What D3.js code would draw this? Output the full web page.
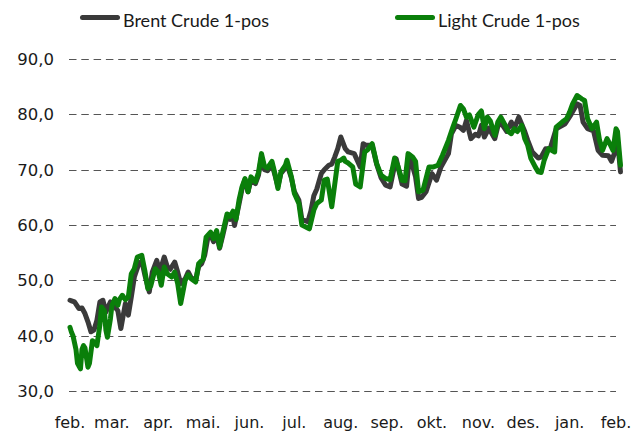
<!DOCTYPE html>
<html><head><meta charset="utf-8">
<script src="https://cdn.jsdelivr.net/npm/d3@7"></script>
<style>body{margin:0;background:#fff}</style>
</head><body>
<svg id="c" width="638" height="432"></svg>
<script>
// Day offsets counted from 1 Feb 2009, with prices (USD/bbl)
const monthLabels = ["feb.","mar.","apr.","mai.","jun.","jul.","aug.","sep.","okt.","nov.","des.","jan.","feb."];
const yTicks = [30,40,50,60,70,80,90];
const seriesNames = ["Brent Crude 1-pos","Light Crude 1-pos"];

const brentDays = [0,1,3,6,8,10,12,14,16,18,20,22,24,27,30,32,34,37,39,41,43,46,48,50,53,55,58,60,63,65,67,70,72,74,77,79,81,84,86,88,90,92,94,96,98,100,102,105,107,109,110,113,115,117,119,121,124,126,128,130,132,135,137,139,141,144,145,148,150,153,155,157,159,161,163,165,168,170,173,175,177,179,181,184,186,190,194,196,198,202,205,208,211,214,218,222,225,227,231,233,235,238,242,245,248,253,255,258,261,263,265,268,271,273,275,277,280,284,286,288,292,295,297,300,304,306,309,313,315,318,321,325,331,335,339,341,343,346,350,353,356,360,362,364,366,368];
const brentVals = [46.4,46.3,46.1,44.9,45.0,44.0,42.5,40.7,41.0,42.8,46.1,46.4,44.3,46.1,45.2,44.5,41.3,45.8,43.7,47.0,50.6,53.0,53.5,51.0,47.9,51.5,53.6,51.5,54.2,52.5,52.0,53.3,51.5,49.4,50.3,51.5,50.5,50.0,52.5,53.0,54.5,57.5,58.2,57.0,58.5,55.8,58.0,61.5,61.0,61.5,59.9,63.8,66.5,68.2,66.0,68.2,67.5,69.0,72.3,70.0,69.8,71.0,69.0,67.0,69.3,70.3,71.0,68.5,66.0,64.5,61.0,60.8,60.6,62.5,65.3,66.5,69.3,70.0,70.8,71.0,72.3,73.8,75.9,73.8,73.2,72.9,70.5,74.7,74.4,74.4,71.0,68.5,67.2,66.9,72.0,67.4,67.0,72.6,68.7,64.8,65.0,66.0,69.3,68.1,70.5,72.9,76.5,78.0,77.6,77.1,78.9,75.6,76.4,76.1,78.0,75.9,77.5,75.6,77.8,78.5,76.9,78.6,77.4,79.5,76.9,75.3,73.2,72.1,72.3,73.8,73.8,77.4,78.3,80.0,81.9,81.6,78.6,77.4,77.0,73.5,72.6,72.5,71.5,73.0,75.3,69.6];

const lightDays = [0,1,2,4,5,7,8,9,10,12,13,15,17,18,20,21,23,24,25,27,28,30,32,33,35,37,39,41,43,45,48,50,52,54,57,59,61,63,65,68,70,72,74,77,79,81,84,86,87,89,91,94,96,98,100,102,105,107,109,111,113,115,117,119,121,124,126,128,130,132,135,137,139,141,144,145,148,150,153,155,158,160,163,165,168,170,172,175,179,181,183,184,186,189,191,194,197,199,202,205,208,211,214,217,219,222,224,226,229,231,233,236,240,243,246,249,253,256,258,261,263,265,267,270,273,275,277,279,281,284,286,288,291,293,295,297,299,302,304,306,308,311,313,315,317,320,322,324,325,329,332,334,336,339,342,344,346,349,352,354,356,359,361,363,365,366,368];
const lightVals = [41.5,40.6,40.0,37.5,35.0,34.0,37.5,38.2,37.8,34.3,35.0,39.1,38.6,38.2,42.0,45.2,44.5,41.0,39.7,43.0,45.4,46.7,45.5,46.5,47.3,46.5,47.0,51.2,52.1,54.2,54.5,51.8,48.5,49.0,52.1,51.5,49.1,52.4,51.2,50.6,51.5,49.4,45.8,50.0,51.0,50.3,49.7,53.0,53.3,53.8,57.8,58.7,57.5,59.0,56.0,58.5,62.0,61.5,62.5,61.0,64.5,66.9,68.4,66.0,68.7,67.8,69.5,72.9,70.6,70.3,71.5,69.3,66.6,69.6,70.8,71.7,68.7,65.7,63.9,60.0,59.6,59.3,62.7,63.9,64.5,68.1,68.3,63.3,71.5,71.7,72.1,71.5,71.2,70.5,67.4,66.9,73.2,73.6,74.7,71.1,69.0,68.4,68.2,72.1,70.8,68.1,68.0,72.9,72.3,71.5,66.0,66.3,70.5,70.5,70.8,72.6,75.3,77.7,79.2,81.6,81.0,79.5,79.9,77.7,80.0,80.6,77.4,79.5,78.8,76.2,78.6,79.5,78.0,76.9,76.5,77.4,76.9,78.0,75.6,74.4,72.1,70.5,69.6,69.5,71.7,73.8,73.5,73.2,77.7,78.6,79.2,80.4,81.9,83.4,82.8,82.5,79.2,77.4,78.6,75.3,73.5,75.6,74.6,73.5,77.4,76.9,70.8];

const start = new Date(2009, 1, 1);
const toDate = d => d3.timeDay.offset(start, d);
const brent = brentDays.map((d,i)=>({date:toDate(d), v:brentVals[i]}));
const light = lightDays.map((d,i)=>({date:toDate(d), v:lightVals[i]}));
const monthDates = d3.timeMonth.range(start, d3.timeMonth.offset(start, 13));

const svg = d3.select("#c");
const x = d3.scaleTime().domain([start, d3.timeMonth.offset(start,12)]).range([70, 616]);
const y = d3.scaleLinear().domain([30, 90]).range([391, 59]);

// grid
svg.append("g").selectAll("line").data(yTicks).join("line")
  .attr("x1", 69).attr("x2", 616)
  .attr("y1", d=>Math.round(y(d))+0.5).attr("y2", d=>Math.round(y(d))+0.5)
  .attr("stroke", "#555").attr("stroke-width", 1)
  .attr("stroke-dasharray", "7.5,4.8");

// y labels
svg.append("g").selectAll("text").data(yTicks).join("text")
  .attr("x", 54).attr("y", d=>y(d)+6)
  .attr("text-anchor","end")
  .attr("font-family","DejaVu Sans, Verdana, sans-serif").attr("font-size", 16.5)
  .attr("fill","#1a1a1a")
  .text(d=>d3.format(".1f")(d).replace(".", ","));

// x labels
svg.append("g").selectAll("text").data(monthDates).join("text")
  .attr("x", d=>x(d)).attr("y", 428)
  .attr("text-anchor","middle")
  .attr("font-family","DejaVu Sans, Verdana, sans-serif").attr("font-size", 16)
  .attr("fill","#1a1a1a")
  .text((d,i)=>monthLabels[i]);

const line = d3.line().x(d=>x(d.date)).y(d=>y(d.v));
const colors = ["#3a3a3a", "#0a7f0a"];
svg.append("path").datum(brent).attr("d", line)
  .attr("fill","none").attr("stroke", colors[0]).attr("stroke-width", 5)
  .attr("stroke-linejoin","round").attr("stroke-linecap","round");
svg.append("path").datum(light).attr("d", line)
  .attr("fill","none").attr("stroke", colors[1]).attr("stroke-width", 5)
  .attr("stroke-linejoin","round").attr("stroke-linecap","round");

// legend
const legX = [82.5, 397.5];
const lg = svg.append("g").selectAll("g").data(seriesNames).join("g");
lg.append("line").attr("x1",(d,i)=>legX[i]).attr("x2",(d,i)=>legX[i]+35)
  .attr("y1",17.5).attr("y2",17.5).attr("stroke",(d,i)=>colors[i]).attr("stroke-width",5)
  .attr("stroke-linecap","round");
lg.append("text").attr("x",(d,i)=>legX[i]+40.5).attr("y",26.7)
  .attr("font-family","Lato, sans-serif").attr("font-size",18)
  .attr("fill","#1a1a1a")
  .text(d=>d);
</script>
</body></html>
